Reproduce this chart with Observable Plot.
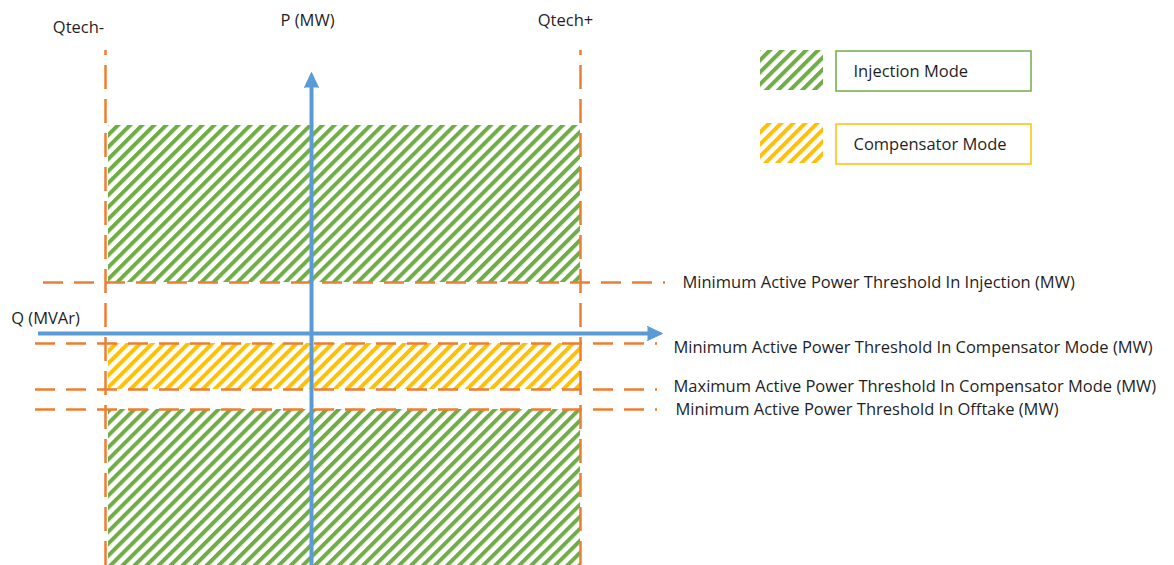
<!DOCTYPE html>
<html>
<head>
<meta charset="utf-8">
<script src="https://cdn.jsdelivr.net/npm/d3@7"></script>
<script src="https://cdn.jsdelivr.net/npm/@observablehq/plot@0.6"></script>
<style>
  html, body { margin: 0; padding: 0; background: #ffffff; }
  #chart { width: 1174px; height: 565px; }
</style>
</head>
<body>
<div id="chart"></div>
<script>
// Q (MVAr) on x, P (MW) on y, arbitrary diagram units
const qLimitNames = ["Qtech-", "Qtech+"];
const qLimitValues = [-206, 269];
const qLimitLabelQ = [-233, 254];
const qLimitLabelP = [306, 313];

const thresholdNames = [
  "Minimum Active Power Threshold In Injection (MW)",
  "Minimum Active Power Threshold In Compensator Mode (MW)",
  "Maximum Active Power Threshold In Compensator Mode (MW)",
  "Minimum Active Power Threshold In Offtake (MW)"
];
const thresholdValues = [51, -10, -56, -76];
const thresholdLabelP = [51, -14, -53, -76];
const thresholdLabelQ = [371, 362, 362, 364];
const thresholdStart = [-268, -276, -276, -276];
const thresholdEnd = [354, 346, 346, 346];

const zoneNames = ["Injection", "Compensator", "Offtake"];
const zoneModes = ["Injection Mode", "Compensator Mode", "Injection Mode"];
const zoneQ1 = [-203, -203, -203];
const zoneQ2 = [269, 269, 269];
const zoneP1 = [51, -56, -232];
const zoneP2 = [208, -10, -76];

const axisNames = ["Q (MVAr)", "P (MW)"];
const qAxis = {from: -273, to: 351, label: [-266, 15]};
const pAxis = {from: -232, to: 261, label: [-4, 313]};
const qLimitTop = 283;
const pBottom = -232;

const modeNames = ["Injection Mode", "Compensator Mode"];
const modeSwatchQ = [449, 512];
const modeSwatchP1 = [283, 210];
const modeSwatchP2 = [243, 170];
const modeBoxQ = [525, 720];
const modeBoxP1 = [282, 209];
const modeBoxP2 = [242, 169];
const modeTextQ = 542;
const modeTextP = [262, 189];

const GREEN = "#70AD47", YELLOW = "#FFC000", ORANGE = "#ED7D31", BLUE = "#5B9BD5", TEXT = "#1f1f1f";
const FS = 16.5;
const modeFill = {"Injection Mode": "url(#hatchGreen)", "Compensator Mode": "url(#hatchYellow)"};
const modeStroke = {"Injection Mode": GREEN, "Compensator Mode": YELLOW};

const zones = zoneNames.map((n, i) => ({name: n, mode: zoneModes[i], q1: zoneQ1[i], q2: zoneQ2[i], p1: zoneP1[i], p2: zoneP2[i]}));
const thresholds = thresholdNames.map((n, i) => ({name: n, p: thresholdValues[i], lp: thresholdLabelP[i], lq: thresholdLabelQ[i], q1: thresholdStart[i], q2: thresholdEnd[i]}));
const qLimits = qLimitNames.map((n, i) => ({name: n, q: qLimitValues[i], lq: qLimitLabelQ[i], lp: qLimitLabelP[i]}));
const modes = modeNames.map((n, i) => ({name: n, sq1: modeSwatchQ[0], sq2: modeSwatchQ[1], sp1: modeSwatchP1[i], sp2: modeSwatchP2[i], bq1: modeBoxQ[0], bq2: modeBoxQ[1], bp1: modeBoxP1[i], bp2: modeBoxP2[i], tq: modeTextQ, tp: modeTextP[i]}));

// arrow heads built from axis tips (diagram units == pixels)
const headL = 15, headW = 7;
const pX = pAxis.label[0] + 4;
const pHead = [[pX - headW, pAxis.to - headL], [pX, pAxis.to], [pX + headW, pAxis.to - headL]];
const qHead = [[qAxis.to - headL, headW], [qAxis.to, 0], [qAxis.to - headL, -headW]];
const axisLabels = [
  {name: axisNames[0], q: qAxis.label[0], p: qAxis.label[1]},
  {name: axisNames[1], q: pAxis.label[0], p: pAxis.label[1]}
];

const plot = Plot.plot({
  width: 1174,
  height: 565,
  margin: 0,
  x: {domain: [-311, 863], axis: null},
  y: {domain: [-232, 333], axis: null},
  style: {fontFamily: "'Open Sans', sans-serif", fontSize: FS + "px", background: "#ffffff", overflow: "visible"},
  marks: [
    Plot.rect(zones, {x1: "q1", x2: "q2", y1: "p1", y2: "p2", fill: d => modeFill[d.mode]}),
    Plot.ruleY(thresholds, {y: "p", x1: "q1", x2: "q2", stroke: ORANGE, strokeWidth: 2.5, strokeDasharray: "20,11"}),
    Plot.ruleX(qLimits, {x: "q", y1: pBottom, y2: qLimitTop, stroke: ORANGE, strokeWidth: 2.5, strokeDasharray: "24,10"}),
    Plot.ruleX([0], {x: d => pX, y1: pAxis.from, y2: pAxis.to - headL + 2, stroke: BLUE, strokeWidth: 4}),
    Plot.ruleY([0], {y: d => 0, x1: qAxis.from, x2: qAxis.to - headL + 2, stroke: BLUE, strokeWidth: 4}),
    Plot.line(pHead, {x: d => d[0], y: d => d[1], fill: BLUE, stroke: BLUE, strokeWidth: 1}),
    Plot.line(qHead, {x: d => d[0], y: d => d[1], fill: BLUE, stroke: BLUE, strokeWidth: 1}),
    Plot.text(qLimits, {x: "lq", y: "lp", text: "name", fill: TEXT, fontSize: FS}),
    Plot.text(axisLabels, {x: "q", y: "p", text: "name", fill: TEXT, fontSize: FS}),
    Plot.text(thresholds, {x: "lq", y: "lp", text: "name", textAnchor: "start", fill: TEXT, fontSize: FS}),
    Plot.rect(modes, {x1: "sq1", x2: "sq2", y1: "sp1", y2: "sp2", fill: d => modeFill[d.name]}),
    Plot.rect(modes, {x1: "bq1", x2: "bq2", y1: "bp1", y2: "bp2", fill: "white", stroke: d => modeStroke[d.name], strokeWidth: 1.5}),
    Plot.text(modes, {x: "tq", y: "tp", text: "name", textAnchor: "start", fill: TEXT, fontSize: FS})
  ]
});

const defs = d3.select(plot).insert("defs", ":first-child");
[["hatchGreen", GREEN], ["hatchYellow", YELLOW]].forEach(([id, c]) => {
  const p = defs.append("pattern")
    .attr("id", id)
    .attr("patternUnits", "userSpaceOnUse")
    .attr("width", 8.5)
    .attr("height", 8.5)
    .attr("patternTransform", "rotate(45)");
  p.append("rect").attr("x", 0).attr("y", 0).attr("width", 4).attr("height", 8.5).attr("fill", c);
});

document.getElementById("chart").appendChild(plot);
</script>
</body>
</html>
